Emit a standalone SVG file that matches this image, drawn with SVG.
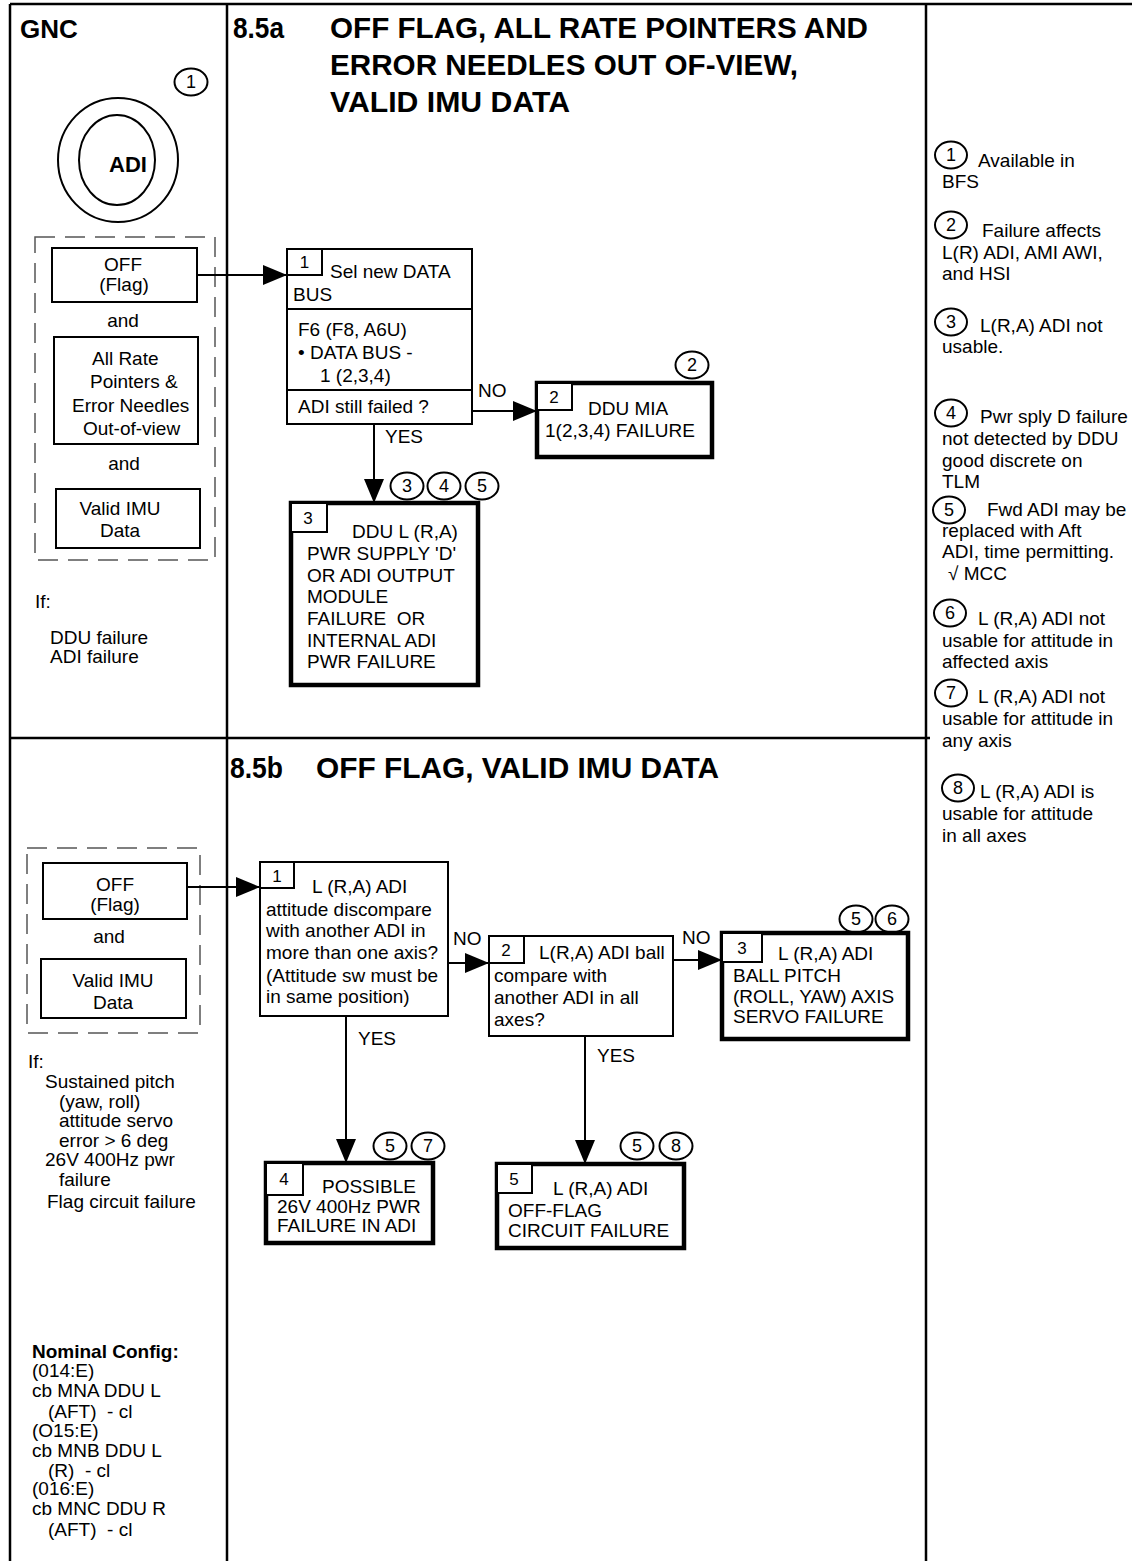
<svg xmlns="http://www.w3.org/2000/svg" width="1132" height="1561" viewBox="0 0 1132 1561">
<style>
text{font-family:"Liberation Sans",Arial,sans-serif;font-size:19px;fill:#000}
.t{font-weight:bold;font-size:30px}
.b{font-weight:bold}
.m{text-anchor:middle}
.n{font-size:17px;text-anchor:middle}
.c{font-size:18px;text-anchor:middle}
.box{fill:#fff;stroke:#000;stroke-width:2}
.tk{fill:#fff;stroke:#000;stroke-width:4.5}
.nb{fill:#fff;stroke:#000;stroke-width:2}
.cir{fill:none;stroke:#000;stroke-width:2}
.frame{stroke:#000;stroke-width:2.5;fill:none}
.dash{fill:none;stroke:#555;stroke-width:1.5;stroke-dasharray:20 10}
.ln{stroke:#000;stroke-width:2;fill:none}
</style>
<defs>
<marker id="ah" viewBox="0 0 24 20" refX="24" refY="10" markerWidth="24" markerHeight="20" markerUnits="userSpaceOnUse" orient="auto">
<path d="M0,0 L24,10 L0,20 Z" fill="#000"/>
</marker>
</defs>
<rect width="1132" height="1561" fill="#fff"/>
<g id="frame">
<path class="frame" d="M10,4 H1132 M10,4 V1561 M227,4 V1561 M926,4 V1561 M10,738 H930"/>
</g>
<g id="headers">
<text class="b" x="20" y="38" style="font-size:26px">GNC</text>
<text class="t" x="233" y="38" textLength="51" lengthAdjust="spacingAndGlyphs">8.5a</text>
<text class="t" x="330" y="38" textLength="538" lengthAdjust="spacingAndGlyphs">OFF FLAG, ALL RATE POINTERS AND</text>
<text class="t" x="330" y="75" textLength="468" lengthAdjust="spacingAndGlyphs">ERROR NEEDLES OUT OF-VIEW,</text>
<text class="t" x="330" y="112" textLength="240" lengthAdjust="spacingAndGlyphs">VALID IMU DATA</text>
<text class="t" x="230" y="778" textLength="53" lengthAdjust="spacingAndGlyphs">8.5b</text>
<text class="t" x="316" y="778" textLength="403" lengthAdjust="spacingAndGlyphs">OFF FLAG, VALID IMU DATA</text>
</g>
<g id="node-adi">
<ellipse class="cir" cx="118" cy="160" rx="60" ry="62"/>
<ellipse class="cir" cx="117" cy="160" rx="38" ry="45"/>
<text class="b m" x="128" y="172" style="font-size:22px">ADI</text>
<ellipse class="cir" cx="191" cy="82" rx="16.5" ry="13.5"/>
<text class="c" x="191" y="88">1</text>
</g>
<g id="node-a-inputs">
<rect class="dash" x="35" y="237" width="180" height="323"/>
<rect class="box" x="52" y="248" width="145" height="54"/>
<text class="m" x="123" y="271">OFF</text>
<text class="m" x="124" y="291">(Flag)</text>
<text class="m" x="123" y="327">and</text>
<rect class="box" x="54" y="337" width="144" height="107"/>
<text x="92" y="365">All Rate</text>
<text x="90" y="388">Pointers &amp;</text>
<text x="72" y="412">Error Needles</text>
<text x="83" y="435">Out-of-view</text>
<text class="m" x="124" y="470">and</text>
<rect class="box" x="56" y="489" width="144" height="59"/>
<text class="m" x="120" y="515">Valid IMU</text>
<text class="m" x="120" y="537">Data</text>
<text x="35" y="608">If:</text>
<text x="50" y="644">DDU failure</text>
<text x="50" y="663">ADI failure</text>
</g>
<g id="node-a1">
<rect class="box" x="287" y="249" width="185" height="175"/>
<path class="ln" d="M287,309 H472 M287,390 H472"/>
<rect class="nb" x="287" y="249" width="35" height="26"/>
<text class="n" x="304.5" y="268">1</text>
<text x="330" y="278">Sel new DATA</text>
<text x="293" y="301">BUS</text>
<text x="298" y="336">F6 (F8, A6U)</text>
<text x="298" y="359">• DATA BUS -</text>
<text x="320" y="382">1 (2,3,4)</text>
<text x="298" y="413">ADI still failed ?</text>
</g>
<g id="node-a2">
<rect class="tk" x="537" y="383" width="175" height="74"/>
<rect class="nb" x="537" y="383" width="35" height="27"/>
<text class="n" x="554" y="403">2</text>
<text x="588" y="415">DDU MIA</text>
<text x="545" y="437">1(2,3,4) FAILURE</text>
<ellipse class="cir" cx="692" cy="365" rx="16.5" ry="13.5"/>
<text class="c" x="692" y="371">2</text>
</g>
<g id="node-a3">
<rect class="tk" x="291" y="503" width="187" height="182"/>
<rect class="nb" x="291" y="503" width="36" height="29"/>
<text class="n" x="308" y="524">3</text>
<text x="352" y="538">DDU L (R,A)</text>
<text x="307" y="560">PWR SUPPLY 'D'</text>
<text x="307" y="582">OR ADI OUTPUT</text>
<text x="307" y="603">MODULE</text>
<text x="307" y="625" xml:space="preserve">FAILURE  OR</text>
<text x="307" y="647">INTERNAL ADI</text>
<text x="307" y="668">PWR FAILURE</text>
<ellipse class="cir" cx="407" cy="486" rx="16.5" ry="13.5"/>
<text class="c" x="407" y="492">3</text>
<ellipse class="cir" cx="444" cy="486" rx="16.5" ry="13.5"/>
<text class="c" x="444" y="492">4</text>
<ellipse class="cir" cx="482" cy="486" rx="16.5" ry="13.5"/>
<text class="c" x="482" y="492">5</text>
</g>
<g id="node-b-inputs">
<rect class="dash" x="27" y="848" width="173" height="185"/>
<rect class="box" x="43" y="863" width="144" height="56"/>
<text class="m" x="115" y="891">OFF</text>
<text class="m" x="115" y="911">(Flag)</text>
<text class="m" x="109" y="943">and</text>
<rect class="box" x="41" y="959" width="145" height="59"/>
<text class="m" x="113" y="987">Valid IMU</text>
<text class="m" x="113" y="1009">Data</text>
<text x="28" y="1068">If:</text>
<text x="45" y="1088">Sustained pitch</text>
<text x="59" y="1108">(yaw, roll)</text>
<text x="59" y="1127">attitude servo</text>
<text x="59" y="1147">error &gt; 6 deg</text>
<text x="45" y="1166">26V 400Hz pwr</text>
<text x="59" y="1186">failure</text>
<text x="47" y="1208">Flag circuit failure</text>
</g>
<g id="node-b1">
<rect class="box" x="260" y="862" width="188" height="154"/>
<rect class="nb" x="260" y="862" width="34" height="26"/>
<text class="n" x="277" y="882">1</text>
<text x="312" y="893">L (R,A) ADI</text>
<text x="266" y="916">attitude discompare</text>
<text x="266" y="937">with another ADI in</text>
<text x="266" y="959">more than one axis?</text>
<text x="266" y="982">(Attitude sw must be</text>
<text x="266" y="1003">in same position)</text>
</g>
<g id="node-b2">
<rect class="box" x="489" y="936" width="184" height="100"/>
<rect class="nb" x="489" y="936" width="35" height="27"/>
<text class="n" x="506" y="956">2</text>
<text x="539" y="959">L(R,A) ADI ball</text>
<text x="494" y="982">compare with</text>
<text x="494" y="1004">another ADI in all</text>
<text x="494" y="1026">axes?</text>
</g>
<g id="node-b3">
<rect class="tk" x="722" y="933" width="186" height="106"/>
<rect class="nb" x="722" y="933" width="40" height="29"/>
<text class="n" x="742" y="954">3</text>
<text x="778" y="960">L (R,A) ADI</text>
<text x="733" y="982">BALL PITCH</text>
<text x="733" y="1003">(ROLL, YAW) AXIS</text>
<text x="733" y="1023">SERVO FAILURE</text>
<ellipse class="cir" cx="856" cy="919" rx="16.5" ry="13.5"/>
<text class="c" x="856" y="925">5</text>
<ellipse class="cir" cx="892" cy="919" rx="16.5" ry="13.5"/>
<text class="c" x="892" y="925">6</text>
</g>
<g id="node-b4">
<rect class="tk" x="266" y="1163" width="167" height="80"/>
<rect class="nb" x="266" y="1163" width="37" height="32"/>
<text class="n" x="284" y="1185">4</text>
<text x="322" y="1193">POSSIBLE</text>
<text x="277" y="1213">26V 400Hz PWR</text>
<text x="277" y="1232">FAILURE IN ADI</text>
<ellipse class="cir" cx="390" cy="1146" rx="16.5" ry="13.5"/>
<text class="c" x="390" y="1152">5</text>
<ellipse class="cir" cx="428" cy="1146" rx="16.5" ry="13.5"/>
<text class="c" x="428" y="1152">7</text>
</g>
<g id="node-b5">
<rect class="tk" x="497" y="1164" width="187" height="84"/>
<rect class="nb" x="497" y="1164" width="35" height="29"/>
<text class="n" x="514" y="1185">5</text>
<text x="553" y="1195">L (R,A) ADI</text>
<text x="508" y="1217">OFF-FLAG</text>
<text x="508" y="1237">CIRCUIT FAILURE</text>
<ellipse class="cir" cx="637" cy="1146" rx="16.5" ry="13.5"/>
<text class="c" x="637" y="1152">5</text>
<ellipse class="cir" cx="676" cy="1146" rx="16.5" ry="13.5"/>
<text class="c" x="676" y="1152">8</text>
</g>
<g id="nominal-config">
<text class="b" x="32" y="1358">Nominal Config:</text>
<text x="32" y="1377">(014:E)</text>
<text x="32" y="1397">cb MNA DDU L</text>
<text x="48" y="1418" xml:space="preserve">(AFT)  - cl</text>
<text x="32" y="1437">(O15:E)</text>
<text x="32" y="1457">cb MNB DDU L</text>
<text x="48" y="1477" xml:space="preserve">(R)  - cl</text>
<text x="32" y="1495">(016:E)</text>
<text x="32" y="1515">cb MNC DDU R</text>
<text x="48" y="1536" xml:space="preserve">(AFT)  - cl</text>
</g>
<g id="notes">
<ellipse class="cir" cx="951" cy="155" rx="16" ry="13.5"/><text class="c" x="951" y="161">1</text>
<text x="978" y="167">Available in</text><text x="942" y="188">BFS</text>
<ellipse class="cir" cx="951" cy="225" rx="16" ry="13.5"/><text class="c" x="951" y="231">2</text>
<text x="982" y="237">Failure affects</text><text x="942" y="259">L(R) ADI, AMI AWI,</text><text x="942" y="280">and HSI</text>
<ellipse class="cir" cx="951" cy="322" rx="16" ry="13.5"/><text class="c" x="951" y="328">3</text>
<text x="980" y="332">L(R,A) ADI not</text><text x="942" y="353">usable.</text>
<ellipse class="cir" cx="951" cy="413" rx="16" ry="13.5"/><text class="c" x="951" y="419">4</text>
<text x="980" y="423">Pwr sply D failure</text><text x="942" y="445">not detected by DDU</text><text x="942" y="467">good discrete on</text><text x="942" y="488">TLM</text>
<ellipse class="cir" cx="949" cy="510" rx="16" ry="13.5"/><text class="c" x="949" y="516">5</text>
<text x="987" y="516">Fwd ADI may be</text><text x="942" y="537">replaced with Aft</text><text x="942" y="558">ADI, time permitting.</text><text x="948" y="580">√ MCC</text>
<ellipse class="cir" cx="950" cy="613" rx="16" ry="13.5"/><text class="c" x="950" y="619">6</text>
<text x="978" y="625">L (R,A) ADI not</text><text x="942" y="647">usable for attitude in</text><text x="942" y="668">affected axis</text>
<ellipse class="cir" cx="951" cy="693" rx="16" ry="13.5"/><text class="c" x="951" y="699">7</text>
<text x="978" y="703">L (R,A) ADI not</text><text x="942" y="725">usable for attitude in</text><text x="942" y="747">any axis</text>
<ellipse class="cir" cx="958" cy="788" rx="16" ry="13.5"/><text class="c" x="958" y="794">8</text>
<text x="980" y="798">L (R,A) ADI is</text><text x="942" y="820">usable for attitude</text><text x="942" y="842">in all axes</text>
</g>
<g id="connectors">
<path class="ln" d="M197,275 H287" marker-end="url(#ah)"/>
<path class="ln" d="M472,411 H537" marker-end="url(#ah)"/>
<path class="ln" d="M374,424 V503" marker-end="url(#ah)"/>
<path class="ln" d="M187,887 H260" marker-end="url(#ah)"/>
<path class="ln" d="M448,963 H489" marker-end="url(#ah)"/>
<path class="ln" d="M673,960 H722" marker-end="url(#ah)"/>
<path class="ln" d="M346,1016 V1163" marker-end="url(#ah)"/>
<path class="ln" d="M585,1036 V1164" marker-end="url(#ah)"/>
<text x="478" y="397">NO</text>
<text x="385" y="443">YES</text>
<text x="453" y="945">NO</text>
<text x="682" y="944">NO</text>
<text x="358" y="1045">YES</text>
<text x="597" y="1062">YES</text>
</g>
</svg>
